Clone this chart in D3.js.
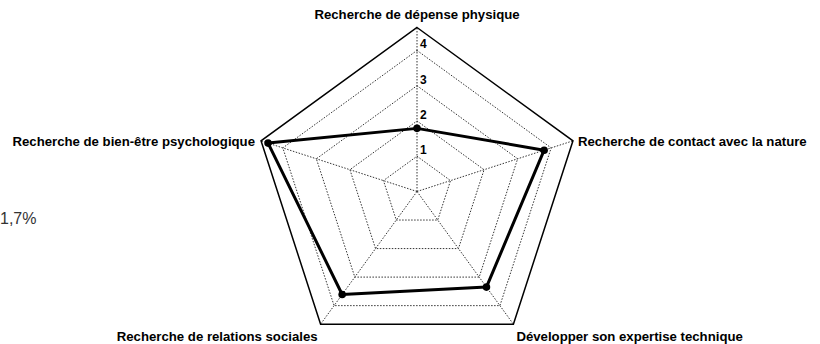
<!DOCTYPE html>
<html><head><meta charset="utf-8">
<script src="https://cdn.jsdelivr.net/npm/d3@7"></script>
<style>body{margin:0;background:#fff}svg{display:block}</style>
</head><body>
<svg id="c" width="820" height="344"></svg>
<script>
const categories = ["Recherche de dépense physique","Recherche de contact avec la nature","Développer son expertise technique","Recherche de relations sociales","Recherche de bien-être psychologique"];
const values = [1.79, 3.79, 3.35, 3.61, 4.44];
const tickValues = [1, 2, 3, 4];
const scaleMax = 4.65;
const sideNote = "1,7%";

const svg = d3.select("#c");
const cx = 417, cy = 191.5, R = 164;
const r = d3.scaleLinear().domain([0, scaleMax]).range([0, R]);
const ang = d3.scaleLinear().domain([0, categories.length]).range([0, 2*Math.PI]);
const pt = (i, v) => [cx + r(v)*Math.sin(ang(i)), cy - r(v)*Math.cos(ang(i))];
const line = d3.line();
const idx = d3.range(categories.length);

// grid levels (dotted)
svg.append("g").selectAll("path").data(tickValues).join("path")
  .attr("d", t => line(idx.map(i => pt(i, t))) + "Z")
  .attr("fill","none").attr("stroke","#333").attr("stroke-width",1).attr("stroke-dasharray","1.5,1.5");
// spokes
svg.append("g").selectAll("line").data(idx).join("line")
  .attr("x1", cx).attr("y1", cy)
  .attr("x2", i => pt(i, scaleMax)[0]).attr("y2", i => pt(i, scaleMax)[1])
  .attr("stroke","#333").attr("stroke-width",1).attr("stroke-dasharray","1.5,1.5");
// outer
svg.append("path").attr("d", line(idx.map(i => pt(i, scaleMax))) + "Z")
  .attr("fill","none").attr("stroke","#000").attr("stroke-width",1.5);
// tick labels
svg.append("g").selectAll("text").data(tickValues).join("text")
  .attr("x", cx + 3).attr("y", t => cy - r(t) - 2)
  .attr("font-family","Liberation Sans, Arial, sans-serif").attr("font-weight","bold").attr("font-size",12)
  .text(t => t);
// data
svg.append("path").attr("d", line(idx.map(i => pt(i, values[i]))) + "Z")
  .attr("fill","none").attr("stroke","#000").attr("stroke-width",3).attr("stroke-linejoin","round");
svg.append("g").selectAll("circle").data(idx).join("circle")
  .attr("cx", i => pt(i, values[i])[0]).attr("cy", i => pt(i, values[i])[1])
  .attr("r", 3.8).attr("fill","#000");
// category labels
const labelPos = [
  {dx:0, dy:-9, anchor:"middle"},
  {dx:5, dy:5, anchor:"start"},
  {dx:3, dy:17, anchor:"start"},
  {dx:-3, dy:17, anchor:"end"},
  {dx:-6, dy:5, anchor:"end"}
];
svg.append("g").selectAll("text").data(idx).join("text")
  .attr("x", i => pt(i, scaleMax)[0] + labelPos[i].dx)
  .attr("y", i => pt(i, scaleMax)[1] + labelPos[i].dy)
  .attr("text-anchor", i => labelPos[i].anchor)
  .attr("font-family","Liberation Sans, Arial, sans-serif").attr("font-weight","bold").attr("font-size",13.2)
  .text(i => categories[i]);
svg.append("text").attr("x", 0).attr("y", 224)
  .attr("font-family","Liberation Sans, Arial, sans-serif").attr("font-size",16).attr("fill","#333")
  .text(sideNote);
</script>
</body></html>
